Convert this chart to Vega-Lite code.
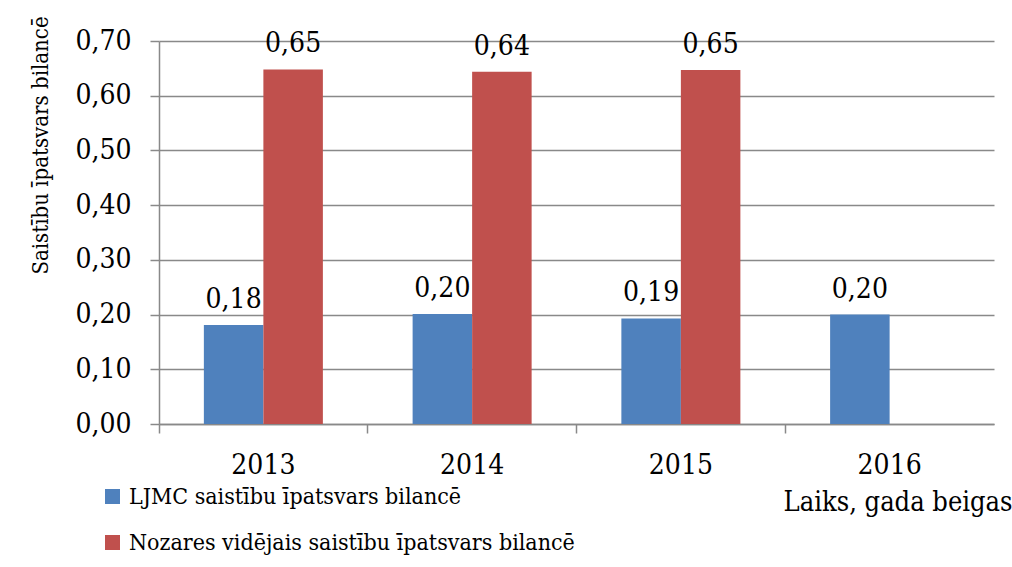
{
  "$schema": "https://vega.github.io/schema/vega-lite/v6.json",
  "autosize": {"type": "none"},
  "padding": {"left": 159, "top": 41, "right": 18, "bottom": 143},
  "width": 835,
  "height": 383,
  "background": "white",
  "config": {
    "font": "DejaVu Serif Condensed",
    "view": {"stroke": null},
    "locale": {"number": {"decimal": ",", "thousands": " ", "grouping": [3], "currency": ["", " €"]}}
  },
  "data": {
    "values": [
      {"year": "2013", "series": "LJMC saistību īpatsvars bilancē", "value": 0.181},
      {"year": "2013", "series": "Nozares vidējais saistību īpatsvars bilancē", "value": 0.648},
      {"year": "2014", "series": "LJMC saistību īpatsvars bilancē", "value": 0.201},
      {"year": "2014", "series": "Nozares vidējais saistību īpatsvars bilancē", "value": 0.644},
      {"year": "2015", "series": "LJMC saistību īpatsvars bilancē", "value": 0.193},
      {"year": "2015", "series": "Nozares vidējais saistību īpatsvars bilancē", "value": 0.647},
      {"year": "2016", "series": "LJMC saistību īpatsvars bilancē", "value": 0.200}
    ]
  },
  "encoding": {
    "x": {
      "field": "year", "type": "nominal",
      "scale": {"paddingInner": 0, "paddingOuter": 0},
      "axis": {
        "title": "Laiks, gada beigas",
        "titleFontSize": 27, "titleFontWeight": "normal", "titleColor": "black",
        "titleAlign": "right", "titleBaseline": "alphabetic", "titleAnchor": null,
        "titleX": 853, "titleY": 86,
        "labelAngle": 0, "labelFontSize": 28, "labelColor": "black",
        "labelBaseline": "alphabetic", "labelPadding": 40,
        "bandPosition": 0,
        "tickSize": 9, "tickColor": "#898989", "tickWidth": 1.5,
        "domainColor": "#898989", "domainWidth": 1.5,
        "grid": false
      }
    },
    "xOffset": {"field": "series", "type": "nominal", "scale": {"paddingInner": 0, "paddingOuter": 0.754}},
    "y": {
      "field": "value", "type": "quantitative",
      "scale": {"domain": [0, 0.7], "nice": false},
      "axis": {
        "title": "Saistību īpatsvars bilancē",
        "titleFontSize": 22, "titleFontWeight": "normal", "titleColor": "black",
        "titleX": -119, "titleY": 104, "titleAngle": -90,
        "titleAlign": "center", "titleBaseline": "middle", "titleAnchor": null,
        "values": [0, 0.1, 0.2, 0.3, 0.4, 0.5, 0.6, 0.7],
        "format": ".2f",
        "labelFontSize": 28, "labelColor": "black", "labelPadding": 19,
        "tickSize": 9, "tickColor": "#898989", "tickWidth": 1.5,
        "domainColor": "#898989", "domainWidth": 1.5,
        "grid": true, "gridColor": "#898989", "gridWidth": 1.5
      }
    }
  },
  "layer": [
    {
      "mark": {"type": "bar"},
      "encoding": {
        "color": {
          "field": "series", "type": "nominal",
          "scale": {"range": ["#4F81BD", "#C0504D"]},
          "legend": {
            "title": null, "orient": "none", "legendX": -58, "legendY": 444,
            "direction": "vertical",
            "symbolType": "square", "symbolSize": 225, "symbolStrokeWidth": 0,
            "labelFontSize": 23, "labelColor": "black", "labelOffset": 5,
            "rowPadding": 22, "labelLimit": 800
          }
        }
      }
    },
    {
      "mark": {"type": "text", "fontSize": 28, "baseline": "alphabetic", "dy": -17, "color": "black"},
      "encoding": {
        "text": {"field": "value", "type": "quantitative", "format": ".2f"}
      }
    }
  ]
}
